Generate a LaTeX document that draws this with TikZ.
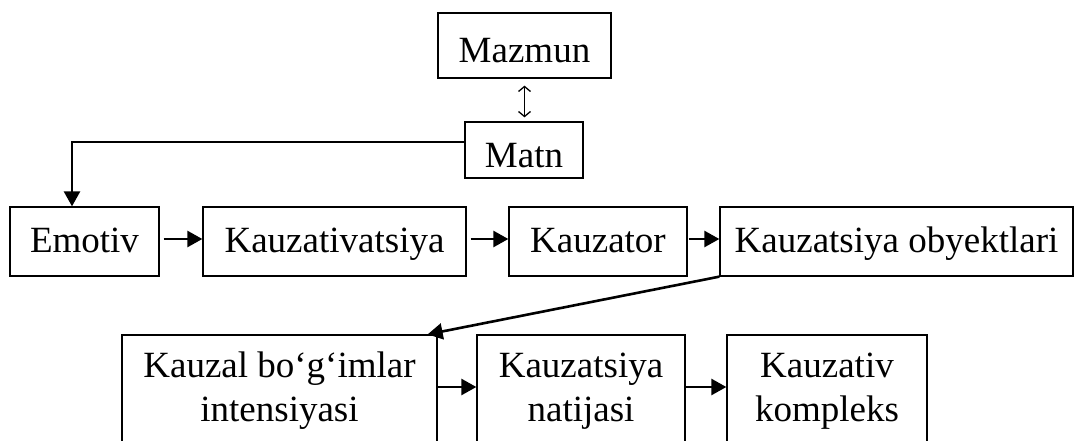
\documentclass[tikz,border=0pt]{standalone}
\usepackage{fontspec}
\setmainfont{Liberation Serif}
\usetikzlibrary{arrows.meta}
\begin{document}
\begin{tikzpicture}[x=1pt,y=-1pt,
  every node/.style={font=\fontsize{37}{44}\selectfont},
  box/.style={draw, line width=1.3pt, inner sep=0pt, text height=25pt, text depth=4pt},
  topbox/.style={draw, line width=1.3pt, inner sep=0pt, text height=34pt, text depth=0pt},
  tallbox/.style={draw, line width=1.3pt, inner sep=0pt, align=center, minimum height=112pt},
  arr/.style={line width=2.6pt, -{Triangle[length=15pt,width=16pt]}},
  dbl/.style={line width=1.3pt, {Straight Barb[length=5pt,width=12pt]}-{Straight Barb[length=5pt,width=12pt]}}
]
\useasboundingbox (0,0) rectangle (1075,441);
\clip (0,0) rectangle (1075,441);

% top pair
\node[topbox, minimum width=173pt, minimum height=65pt] (mazmun) at (524.5,45.5) {Mazmun};
\node[topbox, minimum width=118pt, minimum height=56pt] (matn) at (524,150) {Matn};

% first row
\node[box, minimum width=149pt, minimum height=69pt] (emotiv) at (84.5,241.5) {Emotiv};
\node[box, minimum width=263pt, minimum height=69pt] (kauzativ) at (334.5,241.5) {Kauzativatsiya};
\node[box, minimum width=178pt, minimum height=69pt] (kauzator) at (598,241.5) {Kauzator};
\node[box, minimum width=353pt, minimum height=69pt] (obyekt) at (896.5,241.5) {Kauzatsiya obyektlari};

% second row (boxes run past the lower edge)
\node[tallbox, minimum width=315pt] (kauzal) at (279.5,391) {Kauzal bo‘g‘imlar\\intensiyasi};
\node[tallbox, minimum width=208pt] (natija) at (581,391) {Kauzatsiya\\natijasi};
\node[tallbox, minimum width=200pt] (kompleks) at (827,391) {Kauzativ\\kompleks};

% levels of the horizontal arrows
\coordinate (r1) at (0,239);
\coordinate (r2) at (0,387);
\coordinate (turn) at (72,142);

\draw[dbl, shorten <=7pt, shorten >=4pt] (mazmun.south) -- (mazmun.south |- matn.north);
\draw[arr] (matn.west |- turn) -- (turn) -- (emotiv.north -| turn);

\draw[arr, shorten <=4pt] (emotiv.east |- r1) -- (kauzativ.west |- r1);
\draw[arr, shorten <=4pt] (kauzativ.east |- r1) -- (kauzator.west |- r1);
\draw[arr, shorten <=1pt] (kauzator.east |- r1) -- (obyekt.west |- r1);

\draw[arr] (obyekt.south west) -- ([xshift=-10pt]kauzal.north east);

\draw[arr] (kauzal.east |- r2) -- (natija.west |- r2);
\draw[arr] (natija.east |- r2) -- (kompleks.west |- r2);
\end{tikzpicture}
\end{document}
